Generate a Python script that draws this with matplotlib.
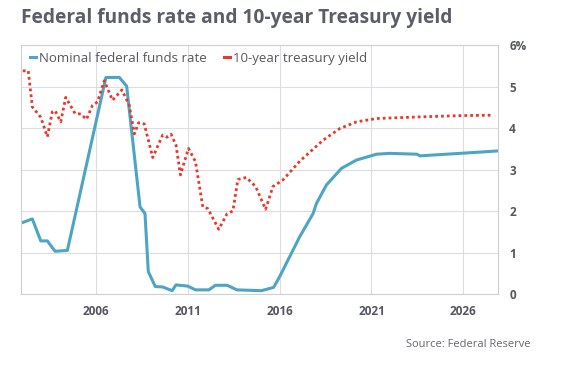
import numpy as np
import matplotlib.pyplot as plt

# data (decimal year, percent)
fed_years = [2001.97, 2002.52, 2002.98, 2003.34, 2003.76, 2004.43, 2006.53, 2007.26,
             2007.66, 2008.39, 2008.66, 2008.84, 2009.22, 2009.62, 2010.14, 2010.35,
             2010.99, 2011.41, 2012.14, 2012.5, 2013.14, 2013.67, 2015.0, 2015.67,
             2016.0, 2017.09, 2017.82, 2018.0, 2018.55, 2019.37, 2020.19, 2021.28,
             2022.0, 2023.47, 2023.65, 2025.1, 2026.56, 2027.93]
fed_rate = [1.72, 1.81, 1.28, 1.28, 1.03, 1.05, 5.22, 5.22,
            5.01, 2.10, 1.94, 0.54, 0.18, 0.17, 0.08, 0.22,
            0.19, 0.10, 0.10, 0.21, 0.21, 0.10, 0.08, 0.16,
            0.42, 1.38, 1.94, 2.18, 2.63, 3.03, 3.23, 3.37,
            3.39, 3.37, 3.33, 3.37, 3.41, 3.45]

tsy_years = [2002.0, 2002.3, 2002.52, 2002.98, 2003.34, 2003.61, 2003.76, 2004.07,
             2004.34, 2004.85, 2005.16, 2005.47, 2005.8, 2006.07, 2006.44, 2006.89,
             2007.4, 2007.8, 2008.08, 2008.31, 2008.62, 2009.08, 2009.62, 2009.86,
             2010.08, 2010.35, 2010.59, 2011.03, 2011.41, 2011.81, 2012.08, 2012.68,
             2013.14, 2013.45, 2013.72, 2014.18, 2014.69, 2015.23, 2015.63, 2016.18,
             2017.09, 2018.37, 2019.28, 2020.19, 2021.28, 2023.65, 2025.84, 2027.57]
tsy_yield = [5.38, 5.38, 4.51, 4.26, 3.79, 4.39, 4.42, 4.15,
             4.74, 4.35, 4.34, 4.21, 4.55, 4.63, 5.14, 4.67,
             4.92, 4.55, 3.86, 4.13, 4.10, 3.29, 3.83, 3.78,
             3.85, 3.59, 2.87, 3.51, 3.19, 2.10, 2.06, 1.56,
             1.94, 2.00, 2.76, 2.81, 2.59, 2.04, 2.59, 2.75,
             3.20, 3.71, 3.99, 4.15, 4.23, 4.27, 4.30, 4.31]

xticks = [2006, 2011, 2016, 2021, 2026]
yticks = [0, 1, 2, 3, 4, 5, 6]
ytick_labels = ['0', '1', '2', '3', '4', '5', '6%']

plt.rcParams['font.family'] = ['Open Sans', 'DejaVu Sans']

fig = plt.figure(figsize=(5.66, 3.65), dpi=100)
ax = fig.add_axes([0.037, 0.1945, 0.843, 0.682])

ax.plot(fed_years, fed_rate, color='#4ea5c3', lw=2.2, label='Nominal federal funds rate')
ax.plot(tsy_years, tsy_yield, color='#e6392b', lw=2, ls=(0, (1, 1.1)),
        label='10-year treasury yield')

ax.set_xlim(2001.9, 2027.9)
ax.set_ylim(0, 6)
ax.set_xticks(xticks)
ax.set_yticks(yticks)
ax.set_yticklabels(ytick_labels)
ax.yaxis.tick_right()
ax.tick_params(length=0, labelsize=8.5, labelcolor='#55575e', pad=8)
for lbl in ax.get_xticklabels() + ax.get_yticklabels():
    lbl.set_fontweight('bold')
ax.grid(True, color='#dcdde2', lw=0.8)
ax.set_axisbelow(True)
for s in ax.spines.values():
    s.set_color('#cfd0d4')

# legend with short solid markers, sitting inside the top of the plot
leg = ax.legend(loc='center left', ncol=2, frameon=False, fontsize=9.5,
                handlelength=0.5, handletextpad=0.2, columnspacing=1.3,
                borderaxespad=0, borderpad=0, bbox_to_anchor=(0.018, 0.948))
for h in leg.get_lines():
    h.set_linestyle('-')
    h.set_linewidth(2.2)
for t in leg.get_texts():
    t.set_color('#55575e')

fig.text(0.037, 0.95, 'Federal funds rate and 10-year Treasury yield', fontsize=13.8,
         fontweight='bold', color='#5b5e66', va='center', ha='left')
fig.text(0.937, 0.055, 'Source: Federal Reserve', fontsize=8, color='#66686e',
         ha='right', va='center')

fig.savefig('out.png', dpi=100)
